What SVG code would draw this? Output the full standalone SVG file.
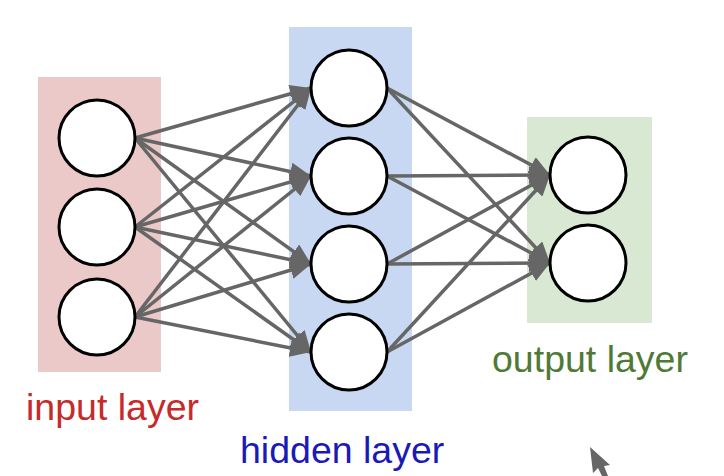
<svg xmlns="http://www.w3.org/2000/svg" width="724" height="476" viewBox="0 0 724 476">
<style>
.node{fill:#ffffff;stroke:#000000;stroke-width:3}
.edge{stroke:#666666;stroke-width:3.5;fill:none;marker-end:url(#ah)}
.lbl{font-family:"Liberation Sans",Arial,sans-serif;font-size:37.5px}
</style>
<defs>
<marker id="ah" markerUnits="userSpaceOnUse" markerWidth="22" markerHeight="18" refX="21" refY="9" orient="auto">
<path d="M0,0 L21,9 L0,18 Z" fill="#666666"/>
</marker>
</defs>
<rect width="724" height="476" fill="#ffffff"/>
<g id="layers">
<rect id="input-bg" x="38" y="77" width="123" height="295" fill="#ecc9c9"/>
<rect id="hidden-bg" x="289" y="27" width="123" height="384" fill="#c8d8f2"/>
<rect id="output-bg" x="527" y="117" width="125" height="206" fill="#d8e8d2"/>
</g>
<g id="connectors">
<line class="edge" x1="135" y1="138" x2="311" y2="88"/>
<line class="edge" x1="135" y1="138" x2="311" y2="176"/>
<line class="edge" x1="135" y1="138" x2="311" y2="264"/>
<line class="edge" x1="135" y1="138" x2="311" y2="352"/>
<line class="edge" x1="135" y1="227" x2="311" y2="88"/>
<line class="edge" x1="135" y1="227" x2="311" y2="176"/>
<line class="edge" x1="135" y1="227" x2="311" y2="264"/>
<line class="edge" x1="135" y1="227" x2="311" y2="352"/>
<line class="edge" x1="135" y1="317" x2="311" y2="88"/>
<line class="edge" x1="135" y1="317" x2="311" y2="176"/>
<line class="edge" x1="135" y1="317" x2="311" y2="264"/>
<line class="edge" x1="135" y1="317" x2="311" y2="352"/>
<line class="edge" x1="387" y1="88" x2="550" y2="175"/>
<line class="edge" x1="387" y1="88" x2="550" y2="263"/>
<line class="edge" x1="387" y1="176" x2="550" y2="175"/>
<line class="edge" x1="387" y1="176" x2="550" y2="263"/>
<line class="edge" x1="387" y1="264" x2="550" y2="175"/>
<line class="edge" x1="387" y1="264" x2="550" y2="263"/>
<line class="edge" x1="387" y1="352" x2="550" y2="175"/>
<line class="edge" x1="387" y1="352" x2="550" y2="263"/>
</g>
<g id="in1"><circle class="node" cx="97" cy="138" r="38"/></g>
<g id="in2"><circle class="node" cx="97" cy="227" r="38"/></g>
<g id="in3"><circle class="node" cx="97" cy="317" r="38"/></g>
<g id="h1"><circle class="node" cx="349" cy="88" r="38"/></g>
<g id="h2"><circle class="node" cx="349" cy="176" r="38"/></g>
<g id="h3"><circle class="node" cx="349" cy="264" r="38"/></g>
<g id="h4"><circle class="node" cx="349" cy="352" r="38"/></g>
<g id="o1"><circle class="node" cx="588" cy="175" r="38"/></g>
<g id="o2"><circle class="node" cx="588" cy="263" r="38"/></g>
<g id="labels">
<text class="lbl" x="26" y="420" fill="#c62a2a">input layer</text>
<text class="lbl" x="240" y="463" fill="#1a1ab4" font-size="38">hidden layer</text>
<text class="lbl" x="492" y="372" fill="#4f7a36" font-size="36.5">output layer</text>
</g>
<polygon id="cursor" points="590,447 593,473 598,468 602,476 608,476 604,466 610,465" fill="#666666"/>
</svg>
